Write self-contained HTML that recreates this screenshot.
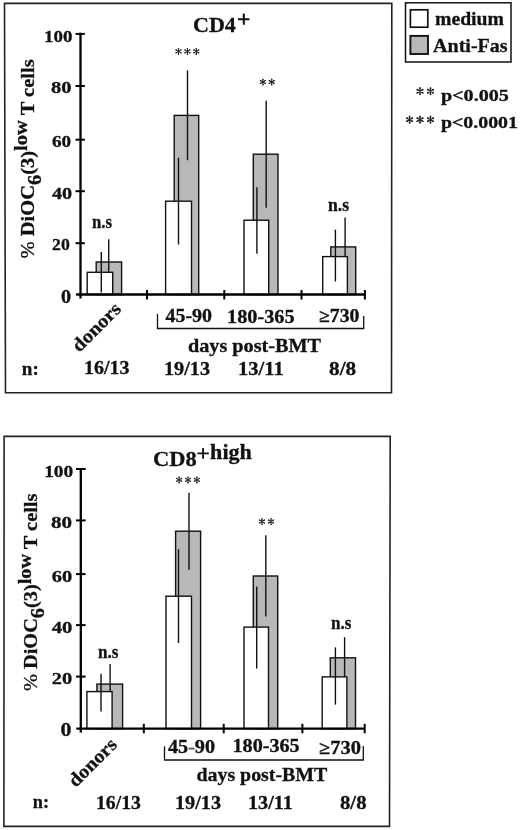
<!DOCTYPE html>
<html><head><meta charset="utf-8">
<style>
html,body{margin:0;padding:0;background:#fff;width:520px;height:830px;overflow:hidden}
svg{position:absolute;left:0;top:0;display:block;will-change:transform}
text{font-family:"Liberation Serif",serif;font-weight:bold;fill:#111;stroke:#111;stroke-width:0.3px}
</style></head>
<body>
<svg width="520" height="830" viewBox="0 0 520 830">
<polygon points="4.5,3.4 391.8,3.3 391.5,392.8 5.5,392.8" fill="none" stroke="#222" stroke-width="1.6"/>
<g stroke="#111" stroke-width="1.4">
<rect x="96.2" y="262" width="25.4" height="32.5" fill="#b8b8b8"/>
<line x1="108.7" y1="239.3" x2="108.7" y2="284.7"/>
<rect x="87.2" y="272.3" width="25.5" height="22.2" fill="#fff"/>
<line x1="101.3" y1="252" x2="101.3" y2="292.6"/>
<rect x="174.2" y="115.4" width="24.5" height="179.1" fill="#b8b8b8"/>
<line x1="187.5" y1="70.4" x2="187.5" y2="160.2"/>
<rect x="165.6" y="201.2" width="25.9" height="93.3" fill="#fff"/>
<line x1="178.5" y1="157.7" x2="178.5" y2="244.5"/>
<rect x="253.3" y="154.2" width="24.7" height="140.3" fill="#b8b8b8"/>
<line x1="266.2" y1="100.8" x2="266.2" y2="207.7"/>
<rect x="244" y="220.2" width="24.7" height="74.3" fill="#fff"/>
<line x1="256.9" y1="187.3" x2="256.9" y2="253.7"/>
<rect x="330.8" y="246.9" width="24.9" height="47.6" fill="#b8b8b8"/>
<line x1="345.1" y1="217.4" x2="345.1" y2="276.4"/>
<rect x="322.7" y="256.6" width="24.7" height="37.9" fill="#fff"/>
<line x1="335.4" y1="229.6" x2="335.4" y2="281.5"/>
</g>
<g stroke="#000" stroke-width="2.3" fill="none">
<line x1="80.5" y1="32.8" x2="80.5" y2="298.6"/>
<line x1="76" y1="294.5" x2="365" y2="294.5"/>
</g>
<g stroke="#000" stroke-width="2.0">
<line x1="75.5" y1="33.9" x2="84.8" y2="33.9"/>
<line x1="75.5" y1="86" x2="84.8" y2="86"/>
<line x1="75.5" y1="139.7" x2="84.8" y2="139.7"/>
<line x1="75.5" y1="191.2" x2="84.8" y2="191.2"/>
<line x1="75.5" y1="243.2" x2="84.8" y2="243.2"/>
<line x1="147" y1="290" x2="147" y2="299.5"/>
<line x1="224.3" y1="290" x2="224.3" y2="299.5"/>
<line x1="301.5" y1="290" x2="301.5" y2="299.5"/>
<line x1="364.9" y1="290" x2="364.9" y2="299.5"/>
</g>
<path d="M157.5,313.75 V328.5 H363.7 V316" fill="none" stroke="#111" stroke-width="1.3"/>
<polygon points="4.1,436.4 390.2,436.4 389.5,826.4 3.9,826.4" fill="none" stroke="#222" stroke-width="1.6"/>
<g stroke="#111" stroke-width="1.4">
<rect x="96.9" y="684.1" width="25.7" height="44.5" fill="#b8b8b8"/>
<line x1="110.1" y1="663.9" x2="110.1" y2="704.3"/>
<rect x="86.9" y="691.6" width="25.2" height="37.0" fill="#fff"/>
<line x1="101" y1="673.8" x2="101" y2="711.4"/>
<rect x="175.6" y="531.2" width="25.0" height="197.4" fill="#b8b8b8"/>
<line x1="189" y1="492.7" x2="189" y2="569.8"/>
<rect x="166" y="596.2" width="25.5" height="132.4" fill="#fff"/>
<line x1="178.5" y1="549.2" x2="178.5" y2="643"/>
<rect x="253.3" y="576" width="24.4" height="152.6" fill="#b8b8b8"/>
<line x1="265.8" y1="535.2" x2="265.8" y2="616.5"/>
<rect x="244" y="627.1" width="24.5" height="101.5" fill="#fff"/>
<line x1="256.7" y1="586.6" x2="256.7" y2="668.5"/>
<rect x="330.3" y="657.8" width="25.2" height="70.8" fill="#b8b8b8"/>
<line x1="344.6" y1="637.2" x2="344.6" y2="678.4"/>
<rect x="322.2" y="676.9" width="24.7" height="51.7" fill="#fff"/>
<line x1="335.4" y1="647.4" x2="335.4" y2="704.6"/>
</g>
<g stroke="#000" stroke-width="2.3" fill="none">
<line x1="80.8" y1="467.9" x2="80.8" y2="732.6"/>
<line x1="76.3" y1="728.6" x2="364.7" y2="728.6"/>
</g>
<g stroke="#000" stroke-width="2.0">
<line x1="76" y1="469" x2="85.6" y2="469"/>
<line x1="76" y1="520.4" x2="85.6" y2="520.4"/>
<line x1="76" y1="574.1" x2="85.6" y2="574.1"/>
<line x1="76" y1="625.1" x2="85.6" y2="625.1"/>
<line x1="76" y1="676.6" x2="85.6" y2="676.6"/>
<line x1="143.8" y1="723.8" x2="143.8" y2="733.3"/>
<line x1="223.7" y1="723.8" x2="223.7" y2="733.3"/>
<line x1="302.4" y1="723.8" x2="302.4" y2="733.3"/>
<line x1="364.7" y1="723.8" x2="364.7" y2="733.3"/>
</g>
<path d="M164.5,746.25 V760 H363.3 V746" fill="none" stroke="#111" stroke-width="1.3"/>
<rect x="405.5" y="2.8" width="105.5" height="59.2" fill="none" stroke="#111" stroke-width="1.5"/>
<rect x="410.4" y="9.8" width="17.4" height="17.4" fill="#fff" stroke="#111" stroke-width="1.7"/>
<rect x="410.4" y="35.9" width="17.6" height="18.1" fill="#b8b8b8" stroke="#111" stroke-width="1.9"/>
<path d="M238,19.3 H249.4 M243.8,13.5 V24.7" stroke="#111" stroke-width="2.0" fill="none"/>
<path d="M197.4,453.4 H208.8 M203.1,448 V458.8" stroke="#111" stroke-width="1.8" fill="none"/>
<path d="M178.5,48.4V54.4M175.9,49.9L181.1,52.9M175.9,52.9L181.1,49.9M187.4,48.4V54.4M184.8,49.9L190.0,52.9M184.8,52.9L190.0,49.9M196.3,48.4V54.4M193.7,49.9L198.9,52.9M193.7,52.9L198.9,49.9M262.9,79.0V85.0M260.3,80.5L265.5,83.5M260.3,83.5L265.5,80.5M271.75,79.0V85.0M269.15,80.5L274.35,83.5M269.15,83.5L274.35,80.5M179.1,476.9V482.9M176.5,478.4L181.7,481.4M176.5,481.4L181.7,478.4M188,476.9V482.9M185.4,478.4L190.6,481.4M185.4,481.4L190.6,478.4M196.9,476.9V482.9M194.3,478.4L199.5,481.4M194.3,481.4L199.5,478.4M262,518.5V524.5M259.4,520.0L264.6,523.0M259.4,523.0L264.6,520.0M271,518.5V524.5M268.4,520.0L273.6,523.0M268.4,523.0L273.6,520.0" stroke="#222" stroke-width="1.05" stroke-linecap="round" fill="none"/>
<g fill="#222"><circle cx="178.5" cy="48.75" r="0.7"/><circle cx="178.5" cy="54.05" r="0.7"/><circle cx="176.21" cy="50.07" r="0.7"/><circle cx="180.79" cy="52.73" r="0.7"/><circle cx="176.21" cy="52.73" r="0.7"/><circle cx="180.79" cy="50.07" r="0.7"/><circle cx="187.4" cy="48.75" r="0.7"/><circle cx="187.4" cy="54.05" r="0.7"/><circle cx="185.11" cy="50.07" r="0.7"/><circle cx="189.69" cy="52.73" r="0.7"/><circle cx="185.11" cy="52.73" r="0.7"/><circle cx="189.69" cy="50.07" r="0.7"/><circle cx="196.3" cy="48.75" r="0.7"/><circle cx="196.3" cy="54.05" r="0.7"/><circle cx="194.01" cy="50.07" r="0.7"/><circle cx="198.59" cy="52.73" r="0.7"/><circle cx="194.01" cy="52.73" r="0.7"/><circle cx="198.59" cy="50.07" r="0.7"/><circle cx="262.9" cy="79.35" r="0.7"/><circle cx="262.9" cy="84.65" r="0.7"/><circle cx="260.61" cy="80.67" r="0.7"/><circle cx="265.19" cy="83.33" r="0.7"/><circle cx="260.61" cy="83.33" r="0.7"/><circle cx="265.19" cy="80.67" r="0.7"/><circle cx="271.75" cy="79.35" r="0.7"/><circle cx="271.75" cy="84.65" r="0.7"/><circle cx="269.46" cy="80.67" r="0.7"/><circle cx="274.04" cy="83.33" r="0.7"/><circle cx="269.46" cy="83.33" r="0.7"/><circle cx="274.04" cy="80.67" r="0.7"/><circle cx="179.1" cy="477.25" r="0.7"/><circle cx="179.1" cy="482.55" r="0.7"/><circle cx="176.81" cy="478.57" r="0.7"/><circle cx="181.39" cy="481.22" r="0.7"/><circle cx="176.81" cy="481.22" r="0.7"/><circle cx="181.39" cy="478.57" r="0.7"/><circle cx="188" cy="477.25" r="0.7"/><circle cx="188" cy="482.55" r="0.7"/><circle cx="185.71" cy="478.57" r="0.7"/><circle cx="190.29" cy="481.22" r="0.7"/><circle cx="185.71" cy="481.22" r="0.7"/><circle cx="190.29" cy="478.57" r="0.7"/><circle cx="196.9" cy="477.25" r="0.7"/><circle cx="196.9" cy="482.55" r="0.7"/><circle cx="194.61" cy="478.57" r="0.7"/><circle cx="199.19" cy="481.22" r="0.7"/><circle cx="194.61" cy="481.22" r="0.7"/><circle cx="199.19" cy="478.57" r="0.7"/><circle cx="262" cy="518.85" r="0.7"/><circle cx="262" cy="524.15" r="0.7"/><circle cx="259.71" cy="520.17" r="0.7"/><circle cx="264.29" cy="522.83" r="0.7"/><circle cx="259.71" cy="522.83" r="0.7"/><circle cx="264.29" cy="520.17" r="0.7"/><circle cx="271" cy="518.85" r="0.7"/><circle cx="271" cy="524.15" r="0.7"/><circle cx="268.71" cy="520.17" r="0.7"/><circle cx="273.29" cy="522.83" r="0.7"/><circle cx="268.71" cy="522.83" r="0.7"/><circle cx="273.29" cy="520.17" r="0.7"/></g>
<path d="M420,87.8V94.6M417.06,89.5L422.94,92.9M417.06,92.9L422.94,89.5M430.5,87.8V94.6M427.56,89.5L433.44,92.9M427.56,92.9L433.44,89.5M409.6,116.3V123.1M406.66,118.0L412.54,121.4M406.66,121.4L412.54,118.0M420,116.3V123.1M417.06,118.0L422.94,121.4M417.06,121.4L422.94,118.0M430.5,116.3V123.1M427.56,118.0L433.44,121.4M427.56,121.4L433.44,118.0" stroke="#222" stroke-width="1.2" stroke-linecap="round" fill="none"/>
<g fill="#222"><circle cx="420" cy="88.28" r="0.95"/><circle cx="420" cy="94.12" r="0.95"/><circle cx="417.47" cy="89.74" r="0.95"/><circle cx="422.53" cy="92.66" r="0.95"/><circle cx="417.47" cy="92.66" r="0.95"/><circle cx="422.53" cy="89.74" r="0.95"/><circle cx="430.5" cy="88.28" r="0.95"/><circle cx="430.5" cy="94.12" r="0.95"/><circle cx="427.97" cy="89.74" r="0.95"/><circle cx="433.03" cy="92.66" r="0.95"/><circle cx="427.97" cy="92.66" r="0.95"/><circle cx="433.03" cy="89.74" r="0.95"/><circle cx="409.6" cy="116.78" r="0.95"/><circle cx="409.6" cy="122.62" r="0.95"/><circle cx="407.07" cy="118.24" r="0.95"/><circle cx="412.13" cy="121.16" r="0.95"/><circle cx="407.07" cy="121.16" r="0.95"/><circle cx="412.13" cy="118.24" r="0.95"/><circle cx="420" cy="116.78" r="0.95"/><circle cx="420" cy="122.62" r="0.95"/><circle cx="417.47" cy="118.24" r="0.95"/><circle cx="422.53" cy="121.16" r="0.95"/><circle cx="417.47" cy="121.16" r="0.95"/><circle cx="422.53" cy="118.24" r="0.95"/><circle cx="430.5" cy="116.78" r="0.95"/><circle cx="430.5" cy="122.62" r="0.95"/><circle cx="427.97" cy="118.24" r="0.95"/><circle cx="433.03" cy="121.16" r="0.95"/><circle cx="427.97" cy="121.16" r="0.95"/><circle cx="433.03" cy="118.24" r="0.95"/></g>
<text id="t1" font-size="17" textLength="28.35" lengthAdjust="spacingAndGlyphs" x="44.0" y="42.1">100</text>
<text id="t2" font-size="17" textLength="20.51" lengthAdjust="spacingAndGlyphs" x="51.0" y="93.0">80</text>
<text id="t3" font-size="17" textLength="19.14" lengthAdjust="spacingAndGlyphs" x="51.9" y="146.5">60</text>
<text id="t4" font-size="17" textLength="20.19" lengthAdjust="spacingAndGlyphs" x="51.9" y="198.5">40</text>
<text id="t5" font-size="17" textLength="17.7" lengthAdjust="spacingAndGlyphs" x="52.1" y="250.0">20</text>
<text id="t6" font-size="18" textLength="10.07" lengthAdjust="spacingAndGlyphs" x="61.0" y="302.55">0</text>
<text id="t7" font-size="19" textLength="199.17" lengthAdjust="spacingAndGlyphs" transform="translate(33.5,258.5) rotate(-90)"><tspan font-weight="normal">%</tspan> DiOC<tspan dy="7">6</tspan><tspan dy="-7">(3)</tspan><tspan dy="-6.3">low</tspan><tspan dy="6.3"> T cells</tspan></text>
<text id="t8" font-size="22" textLength="42.85" lengthAdjust="spacingAndGlyphs" x="193.0" y="32.3">CD4</text>
<text id="t11" font-size="18" textLength="20.07" lengthAdjust="spacingAndGlyphs" x="92.0" y="228.45">n.s</text>
<text id="t12" font-size="18" textLength="21.09" lengthAdjust="spacingAndGlyphs" x="328.0" y="210.9">n.s</text>
<text id="t13" font-size="19" textLength="60.65" lengthAdjust="spacingAndGlyphs" transform="translate(79.35,352.95) rotate(-45)">donors</text>
<text id="t14" font-size="18" textLength="46.57" lengthAdjust="spacingAndGlyphs" x="165.5" y="322.0">45-90</text>
<text id="t15" font-size="18" textLength="67.67" lengthAdjust="spacingAndGlyphs" x="227.0" y="322.65">180-365</text>
<text id="t16" font-size="18" textLength="40.49" lengthAdjust="spacingAndGlyphs" x="319.0" y="322.45">≥730</text>
<text id="t17" font-size="19" textLength="133.08" lengthAdjust="spacingAndGlyphs" x="188.0" y="351.55">days post-BMT</text>
<text id="t18" font-size="19" textLength="16.93" lengthAdjust="spacingAndGlyphs" x="21.8" y="374.9">n:</text>
<text id="t19" font-size="18" textLength="45.66" lengthAdjust="spacingAndGlyphs" x="84.0" y="374.2">16/13</text>
<text id="t20" font-size="18" textLength="46.09" lengthAdjust="spacingAndGlyphs" x="164.0" y="375.25">19/13</text>
<text id="t21" font-size="18" textLength="45.85" lengthAdjust="spacingAndGlyphs" x="238.0" y="375.25">13/11</text>
<text id="t22" font-size="18" textLength="27.18" lengthAdjust="spacingAndGlyphs" x="329.0" y="375.25">8/8</text>
<text id="t23" font-size="19.5" textLength="68.9" lengthAdjust="spacingAndGlyphs" x="435.0" y="25.2">medium</text>
<text id="t24" font-size="19.5" textLength="74.64" lengthAdjust="spacingAndGlyphs" x="433.0" y="52.45">Anti-Fas</text>
<text id="t25b" font-size="17" textLength="67.85" lengthAdjust="spacingAndGlyphs" x="441.0" y="100.65">p&lt;0.005</text>
<text id="t26b" font-size="17" textLength="76.94" lengthAdjust="spacingAndGlyphs" x="441.0" y="127.9">p&lt;0.0001</text>
<text id="t27" font-size="17" textLength="29.0" lengthAdjust="spacingAndGlyphs" x="44.2" y="477.1">100</text>
<text id="t28" font-size="17" textLength="21.12" lengthAdjust="spacingAndGlyphs" x="51.0" y="528.0">80</text>
<text id="t29" font-size="17" textLength="20.4" lengthAdjust="spacingAndGlyphs" x="51.7" y="581.5">60</text>
<text id="t30" font-size="17" textLength="20.71" lengthAdjust="spacingAndGlyphs" x="51.7" y="632.5">40</text>
<text id="t31" font-size="17" textLength="20.41" lengthAdjust="spacingAndGlyphs" x="51.7" y="684.0">20</text>
<text id="t32" font-size="18" textLength="10.98" lengthAdjust="spacingAndGlyphs" x="60.4" y="736.0">0</text>
<text id="t33" font-size="19" textLength="197.38" lengthAdjust="spacingAndGlyphs" transform="translate(36.8,691.0) rotate(-90)"><tspan font-weight="normal">%</tspan> DiOC<tspan dy="7">6</tspan><tspan dy="-7">(3)</tspan><tspan dy="-6.3">low</tspan><tspan dy="6.3"> T cells</tspan></text>
<text id="t34" font-size="22" textLength="43.64" lengthAdjust="spacingAndGlyphs" x="153.0" y="466.4">CD8</text>
<text id="t37" font-size="18" textLength="20.49" lengthAdjust="spacingAndGlyphs" x="98.0" y="658.25">n.s</text>
<text id="t38" font-size="18" textLength="20.38" lengthAdjust="spacingAndGlyphs" x="331.0" y="628.9">n.s</text>
<text id="t39" font-size="19" textLength="59.84" lengthAdjust="spacingAndGlyphs" transform="translate(75.75,788.0) rotate(-45)">donors</text>
<text id="t40" font-size="18" textLength="47.04" lengthAdjust="spacingAndGlyphs" x="168.0" y="752.5">45<tspan font-weight="normal" fill="#666">-</tspan>90</text>
<text id="t41" font-size="18" textLength="67.14" lengthAdjust="spacingAndGlyphs" x="232.5" y="752.25">180-365</text>
<text id="t42" font-size="18" textLength="41.98" lengthAdjust="spacingAndGlyphs" x="319.0" y="753.75">≥730</text>
<text id="t43" font-size="19" textLength="130.93" lengthAdjust="spacingAndGlyphs" x="196.45" y="780.6">days post-BMT</text>
<text id="t44" font-size="19" textLength="16.25" lengthAdjust="spacingAndGlyphs" x="32.8" y="807.95">n:</text>
<text id="t45" font-size="18" textLength="44.96" lengthAdjust="spacingAndGlyphs" x="96.0" y="808.6">16/13</text>
<text id="t46" font-size="18" textLength="46.09" lengthAdjust="spacingAndGlyphs" x="175.0" y="808.6">19/13</text>
<text id="t47" font-size="18" textLength="44.88" lengthAdjust="spacingAndGlyphs" x="248.0" y="808.6">13/11</text>
<text id="t48" font-size="18" textLength="26.52" lengthAdjust="spacingAndGlyphs" x="340.0" y="809.15">8/8</text>
<text id="t34c" font-size="20" textLength="41.78" lengthAdjust="spacingAndGlyphs" x="210.1" y="458.8">high</text>
</svg>
</body></html>
